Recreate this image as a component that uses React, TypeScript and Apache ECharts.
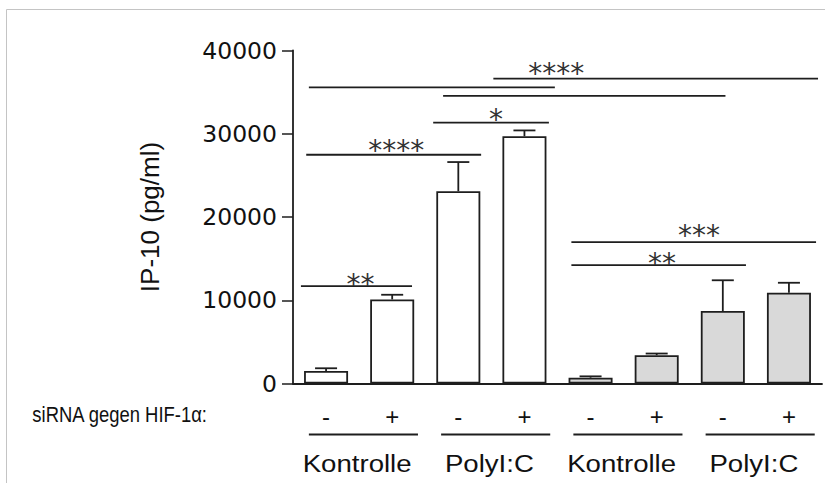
import { useEffect, useRef } from "react";
import * as echarts from "echarts";

// IP-10 secretion per condition (mean and upper SD), pg/ml
const sirnaLabels = ["-", "+", "-", "+", "-", "+", "-", "+"];
const treatmentLabels = ["Kontrolle", "PolyI:C", "Kontrolle", "PolyI:C"];
const ip10Mean = [1500, 10100, 23100, 29700, 700, 3400, 8700, 10900];
const ip10Error = [330, 560, 3500, 700, 160, 200, 3700, 1200];
const yTickValues = [0, 10000, 20000, 30000, 40000];

// Significance brackets: ends in category units, heights in pg/ml
const sigBrackets = [
  { from: -0.38, to: 1.3, level: 11700, stars: "**", at: 0.52, starLevel: 12660 },
  { from: -0.3, to: 2.345, level: 27480, stars: "****", at: 1.06, starLevel: 28740 },
  { from: 1.62, to: 3.37, level: 31340, stars: "*", at: 2.57, starLevel: 32460 },
  { from: -0.26, to: 3.46, level: 35580, stars: "", at: 0, starLevel: 0 },
  { from: 1.77, to: 6.04, level: 34540, stars: "", at: 0, starLevel: 0 },
  { from: 2.53, to: 7.44, level: 36620, stars: "****", at: 3.48, starLevel: 38020 },
  { from: 3.71, to: 7.41, level: 16980, stars: "***", at: 5.64, starLevel: 18620 },
  { from: 3.71, to: 6.35, level: 14220, stars: "**", at: 5.08, starLevel: 15220 },
];

const FONT = "'Liberation Sans', Arial, Helvetica, sans-serif";
const INK = "#1e1e1e";
const STAR_SIZE = 28;

export default function App() {
  const ref = useRef<HTMLDivElement>(null);

  useEffect(() => {
    if (!ref.current) return;
    const chart = echarts.init(ref.current, undefined, { renderer: "svg" });

    const option: any = {
      animation: false,
      grid: { left: 293, right: 3, top: 50.5, bottom: 99.5 },
      xAxis: {
        type: "category",
        data: sirnaLabels.map((_, i) => `c${i}`),
        axisLine: { lineStyle: { color: INK, width: 1.8 } },
        axisTick: { alignWithLabel: true, length: 8, lineStyle: { color: INK, width: 1.5 } },
        axisLabel: {
          formatter: (_v: string, i: number) => sirnaLabels[i],
          margin: 33,
          verticalAlign: "middle",
          fontSize: 24,
          color: "#111",
          fontFamily: FONT,
        },
      },
      yAxis: {
        type: "value",
        min: yTickValues[0],
        max: yTickValues[yTickValues.length - 1],
        interval: 10000,
        axisLine: { show: true, lineStyle: { color: INK, width: 1.8 } },
        axisTick: { show: true, length: 11, lineStyle: { color: INK, width: 1.5 } },
        splitLine: { show: false },
        axisLabel: {
          margin: 16,
          fontSize: 23.5,
          color: "#111",
          fontFamily: "'DejaVu Sans', sans-serif",
          formatter: (v: number) => String(v),
        },
        name: "IP-10 (pg/ml)",
        nameLocation: "middle",
        nameGap: 130,
        nameTextStyle: { fontSize: 26, color: "#111", fontFamily: FONT },
      },
      series: [
        {
          type: "bar",
          barWidth: 44,
          data: ip10Mean.map((v, i) => ({
            value: v,
            itemStyle: { color: i < 4 ? "#ffffff" : "#d9d9d9" },
          })),
          itemStyle: { borderColor: INK, borderWidth: 1.8 },
          z: 2,
        },
        {
          // upper error bars
          type: "custom",
          clip: false,
          z: 3,
          data: ip10Mean.map((m, i) => [i, m + ip10Error[i], m]),
          encode: { x: 0, y: 1 },
          renderItem: (_params: any, api: any) => {
            const idx = api.value(0);
            const top = api.coord([idx, api.value(2)]);
            const cap = api.coord([idx, api.value(1)]);
            const half = 11;
            const style = { stroke: INK, lineWidth: 1.8 };
            return {
              type: "group",
              children: [
                { type: "line", shape: { x1: top[0], y1: top[1], x2: cap[0], y2: cap[1] }, style },
                { type: "line", shape: { x1: cap[0] - half, y1: cap[1], x2: cap[0] + half, y2: cap[1] }, style },
              ],
            };
          },
        },
        {
          // significance brackets with asterisks
          type: "custom",
          clip: false,
          z: 4,
          data: sigBrackets.map((b) => [0, b.level]),
          encode: { x: 0, y: 1 },
          renderItem: (params: any, api: any) => {
            const b = sigBrackets[params.dataIndex];
            const origin = api.coord([0, b.level]);
            const band = api.size([1, 0])[0];
            const y = origin[1];
            const children: any[] = [
              {
                type: "line",
                shape: { x1: origin[0] + b.from * band, y1: y, x2: origin[0] + b.to * band, y2: y },
                style: { stroke: INK, lineWidth: 1.8 },
              },
            ];
            if (b.stars) {
              // the asterisk glyph sits high in its em box, so the anchor is lowered
              children.push({
                type: "text",
                x: origin[0] + b.at * band,
                y: api.coord([0, b.starLevel])[1] + STAR_SIZE * 0.24,
                style: {
                  text: b.stars,
                  align: "center",
                  verticalAlign: "middle",
                  fontSize: STAR_SIZE,
                  fontFamily: "'DejaVu Sans', sans-serif",
                  fill: "#333",
                },
              });
            }
            return { type: "group", children };
          },
        },
        {
          // treatment group underlines and names, plus the siRNA row caption
          type: "custom",
          clip: false,
          z: 4,
          data: treatmentLabels.map((_, g) => [2 * g, 0]),
          encode: { x: 0, y: 1 },
          renderItem: (params: any, api: any) => {
            const p = api.coord([api.value(0), 0]);
            const band = api.size([1, 0])[0];
            const y = p[1] + 51;
            const children: any[] = [
              {
                type: "line",
                shape: { x1: p[0] - 0.26 * band, y1: y, x2: p[0] + 1.39 * band, y2: y },
                style: { stroke: INK, lineWidth: 1.8 },
              },
              {
                type: "text",
                x: p[0] + band / 2 - 2,
                y: p[1] + 80,
                scaleX: 1.15,
                style: {
                  text: treatmentLabels[params.dataIndex],
                  align: "center",
                  verticalAlign: "middle",
                  fontSize: 24,
                  fontFamily: FONT,
                  fill: "#111",
                },
              },
            ];
            if (params.dataIndex === 0) {
              children.push({
                type: "text",
                x: 207,
                y: p[1] + 30,
                scaleX: 0.82,
                style: {
                  text: "siRNA gegen HIF-1\u03b1:",
                  align: "right",
                  verticalAlign: "middle",
                  fontSize: 22.5,
                  fontFamily: FONT,
                  fill: "#111",
                },
              });
            }
            return { type: "group", children };
          },
        },
      ],
      graphic: [
        {
          type: "rect",
          shape: { x: 6.5, y: 9.5, width: 900, height: 600 },
          style: { fill: "none", stroke: "#c4c4c4", lineWidth: 1 },
          silent: true,
          z: -1,
        },
      ],
    };

    chart.setOption(option);
    return () => chart.dispose();
  }, []);

  return (
    <div
      ref={ref}
      style={{ position: "fixed", left: 0, top: 0, width: 825, height: 483, background: "#fff" }}
    />
  );
}
